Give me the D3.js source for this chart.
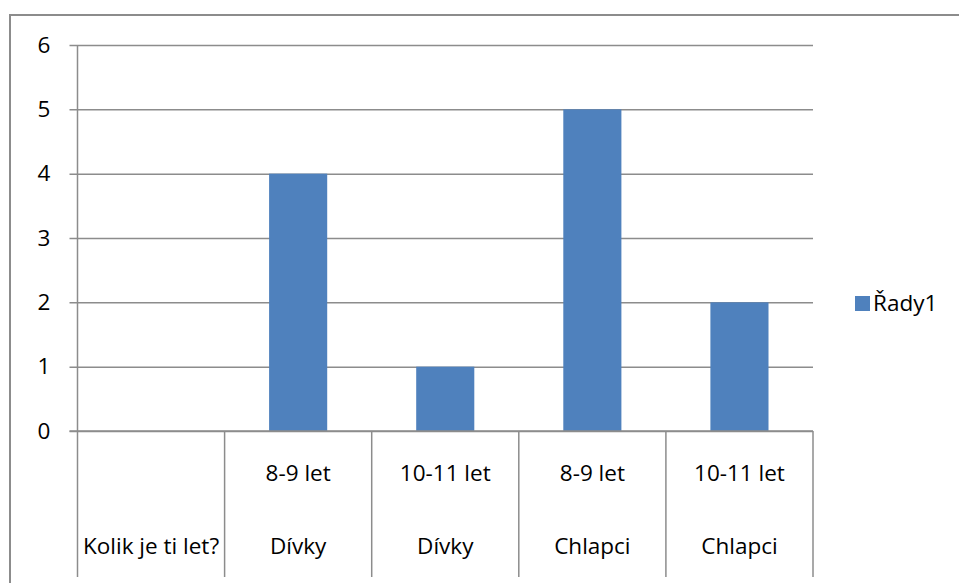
<!DOCTYPE html>
<html>
<head>
<meta charset="utf-8">
<script src="https://cdn.jsdelivr.net/npm/d3@7"></script>
<style>
  html, body { margin: 0; padding: 0; background: #fff; }
  svg { display: block; font-family: "Open Sans", "Noto Sans", sans-serif; }
</style>
</head>
<body>
<svg id="chart" width="959" height="583"></svg>
<script>
// ---- data ----
const ageLabels    = ["", "8-9 let", "10-11 let", "8-9 let", "10-11 let"];
const groupLabels  = ["Kolik je ti let?", "Dívky", "Dívky", "Chlapci", "Chlapci"];
const values       = [null, 4, 1, 5, 2];
const yTicks       = [0, 1, 2, 3, 4, 5, 6];
const seriesName   = "Řady1";

// ---- layout ----
const svg = d3.select("#chart");
const gridColor = "#8c8c8c";
const barColor = "#4F81BD";
const fontSize = 22.5;
const fontFam = "Open Sans, Noto Sans, sans-serif";

const pLeft = 77.5, pRight = 813, pTop = 45, pBottom = 431;
const idx = d3.range(values.length);

const x = d3.scaleBand().domain(idx).range([pLeft, pRight]).padding(0);
const y = d3.scaleLinear().domain([0, 6]).range([pBottom, pTop]);

// outer border
svg.append("rect")
  .attr("x", 10).attr("y", 15).attr("width", 960).attr("height", 600)
  .attr("fill", "none").attr("stroke", gridColor).attr("stroke-width", 2);

// gridlines (horizontal) with left tick marks
const yAxis = d3.axisLeft(y).tickValues(yTicks).tickFormat(d3.format("d"))
  .tickSize(pRight - pLeft + 8).tickSizeOuter(0);
const gy = svg.append("g").attr("transform", `translate(${pRight},0)`).call(yAxis);
gy.select(".domain").remove();
gy.selectAll(".tick line").attr("stroke", gridColor).attr("stroke-width", 1.5);
gy.selectAll(".tick text").attr("font-size", fontSize).attr("fill", "#000")
  .attr("font-family", fontFam)
  .attr("x", 44 - pRight).attr("text-anchor", "middle");

// left axis line
svg.append("line").attr("x1", pLeft).attr("x2", pLeft).attr("y1", pTop).attr("y2", pBottom)
  .attr("stroke", gridColor).attr("stroke-width", 1.5);

// bars
const barFrac = 0.395;
svg.append("g").selectAll("rect").data(idx.filter(i => values[i] != null)).join("rect")
  .attr("x", i => x(i) + x.bandwidth() * (1 - barFrac) / 2)
  .attr("width", x.bandwidth() * barFrac)
  .attr("y", i => y(values[i]))
  .attr("height", i => y(0) - y(values[i]))
  .attr("fill", barColor);

// zero line
svg.append("line").attr("x1", pLeft - 8).attr("x2", pRight).attr("y1", y(0)).attr("y2", y(0))
  .attr("stroke", gridColor).attr("stroke-width", 1.5);

// category separators
const bounds = idx.map(i => x(i)).concat([pRight]);
svg.append("g").selectAll("line").data(bounds).join("line")
  .attr("x1", d => d).attr("x2", d => d).attr("y1", pBottom).attr("y2", 577)
  .attr("stroke", gridColor).attr("stroke-width", 1.5);

// category labels, level 1 and level 2
const xAxis1 = d3.axisBottom(x).tickSize(0).tickFormat(i => ageLabels[i]);
const g1 = svg.append("g").attr("transform", `translate(0,${pBottom})`).call(xAxis1);
g1.select(".domain").remove();
g1.selectAll(".tick text").attr("font-size", fontSize).attr("fill", "#000")
  .attr("font-family", fontFam)
  .attr("y", 0).attr("dy", null).attr("transform", "translate(0,50)");

const xAxis2 = d3.axisBottom(x).tickSize(0).tickFormat(i => groupLabels[i]);
const g2 = svg.append("g").attr("transform", `translate(0,${pBottom})`).call(xAxis2);
g2.select(".domain").remove();
g2.selectAll(".tick text").attr("font-size", fontSize).attr("fill", "#000")
  .attr("font-family", fontFam)
  .attr("y", 0).attr("dy", null).attr("transform", "translate(0,123)");

// legend
const lg = svg.append("g").attr("transform", "translate(855,296)");
lg.append("rect").attr("width", 15).attr("height", 15).attr("fill", barColor);
lg.append("text").attr("x", 18).attr("y", 15).attr("font-size", fontSize)
  .attr("font-family", fontFam).attr("fill", "#000").text(seriesName);
</script>
</body>
</html>
